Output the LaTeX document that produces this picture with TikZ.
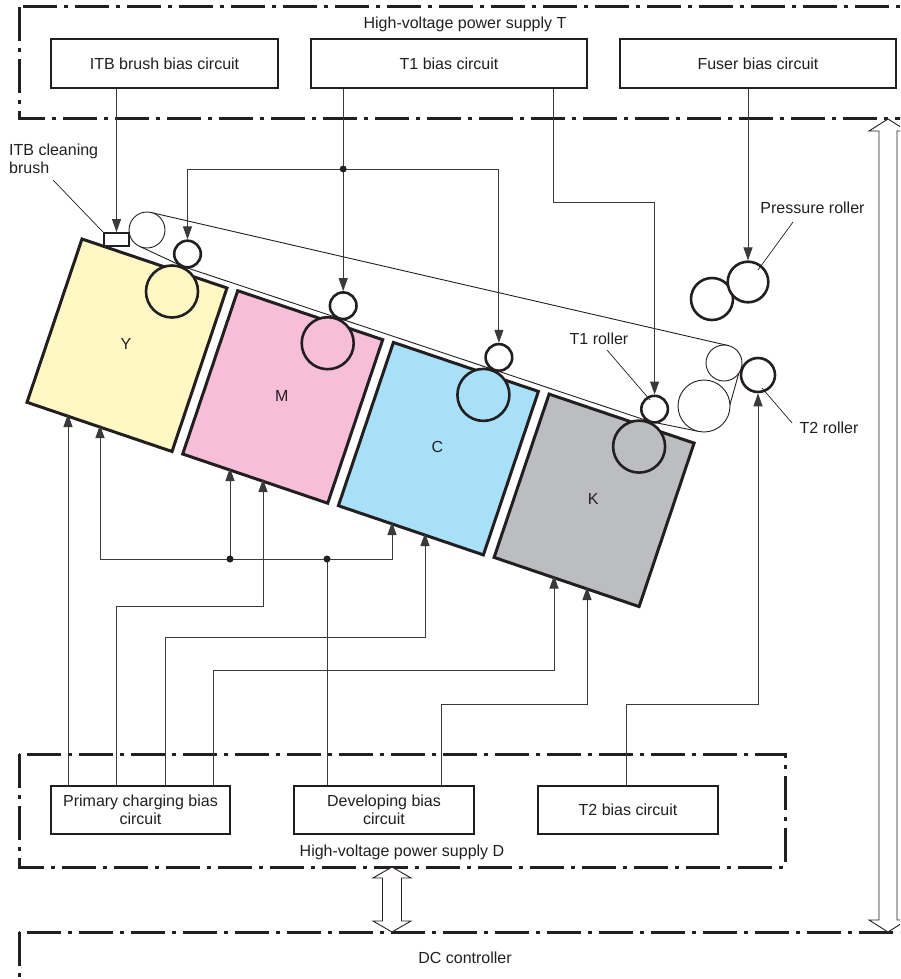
\documentclass[tikz,border=0pt]{standalone}
\usepackage{fontspec}
\setmainfont{Liberation Sans}
\usetikzlibrary{arrows.meta,calc}
\definecolor{ink}{HTML}{231F20}
\definecolor{wire}{HTML}{3A3A3A}
\definecolor{cy}{HTML}{FFF8C4}
\definecolor{cm}{HTML}{F6BED8}
\definecolor{cc}{HTML}{A8E0F8}
\definecolor{ck}{HTML}{BCBDC0}
\begin{document}
\begin{tikzpicture}[x=1pt,y=-1pt,
  font=\fontsize{16}{17.5}\selectfont,
  txt/.style={text=ink, inner sep=0pt},
  cbox/.style={draw=ink, line width=2.5pt, fill=white, align=center, text=ink, inner sep=0pt},
  wireline/.style={draw=wire, line width=1pt},
  arr/.style={wireline, -{Triangle[length=13pt,width=9pt]}},
  zone/.style={draw=ink, line width=3pt, dash pattern=on 34pt off 7pt on 4pt off 7pt},
  cart/.style={draw=ink, line width=3pt, line join=miter},
  drum/.style={draw=ink, line width=2.6pt},
  idler/.style={draw=ink, line width=0.9pt},
  leader/.style={draw=ink, line width=0.7pt},
  dot/.style={circle, fill=ink, inner sep=0pt, minimum size=7pt},
  dbl/.style={draw=ink, line width=0.9pt, fill=white, line join=miter},
]
\clip (0,0) rectangle (900,979);

% dash-dot zones
\draw[zone] (19,7) rectangle (940,119);
\draw[zone] (19,754) rectangle (785,867);
\draw[zone] (19,932) rectangle (940,1020);
\node[txt] (hvT) at (465,24) {High-voltage power supply T};
\node[txt] (hvD) at (402,852) {High-voltage power supply D};
\node[txt] (dc) at (465,958) {DC controller};

% circuit boxes
\node[cbox, minimum width=227pt, minimum height=49pt] (itb) at (164.5,63.5) {ITB brush bias circuit};
\node[cbox, minimum width=276pt, minimum height=49pt] (t1b) at (449,63.5) {T1 bias circuit};
\node[cbox, minimum width=276pt, minimum height=49pt] (fub) at (758,63.5) {Fuser bias circuit};
\node[cbox, minimum width=179pt, minimum height=48pt] (pcb) at (140.5,810) {Primary charging bias\\circuit};
\node[cbox, minimum width=180pt, minimum height=48pt] (dvb) at (384,810) {Developing bias\\circuit};
\node[cbox, minimum width=180pt, minimum height=48pt] (t2b) at (628,810) {T2 bias circuit};

% cartridges
\foreach \i/\col/\lab in {0/cy/Y,1/cm/M,2/cc/C,3/ck/K}{
  \begin{scope}[shift={(155.7*\i,51.7*\i)}]
    \filldraw[cart, fill=\col] (82,239) -- (227,288) -- (172,451.5) -- (27,402.3) -- cycle;
    \node[txt] (lab\lab) at (126,344) {\lab};
  \end{scope}
}

% belt
\draw[idler] (151,212.5) -- (728,345.5);
\draw[idler] (738.8,373.2) -- (725.4,420.8);
\draw[idler] (697.7,431.2) -- (649.5,421.4) -- (182.4,266.3) -- (139.7,246.4);

% drums and T1 rollers
\foreach \i/\col/\lab in {0/cy/Y,1/cm/M,2/cc/C,3/ck/K}{
  \begin{scope}[shift={(155.7*\i,51.7*\i)}]
    \draw[drum, fill=\col] (172,291.5) circle[radius=26];
    \draw[drum, fill=white] (187.5,254) circle[radius=13.3];
    \coordinate (t1r\lab) at (187.5,239.4);
  \end{scope}
}

% ITB rollers
\draw[idler, fill=white] (147,230) circle[radius=18];
\draw[idler, fill=white] (724,363) circle[radius=18];
\draw[idler, fill=white] (704,406) circle[radius=26];
\node[circle, draw=ink, line width=2.6pt, fill=white, minimum size=34pt, inner sep=0pt] (t2r) at (758,375) {};
% fuser rollers
\draw[drum, fill=white] (712,299) circle[radius=21];
\node[circle, draw=ink, line width=2.6pt, fill=white, minimum size=40.6pt, inner sep=0pt] (pr) at (748,282) {};
% ITB cleaning brush
\node[draw=ink, line width=2pt, fill=white, minimum width=25pt, minimum height=13pt, inner sep=0pt] (brush) at (116.5,239.5) {};

% tip points on cartridge bottoms
\coordinate (cY1) at (68,414);
\coordinate (cY2) at (100,425);
\coordinate (cM1) at (230,468);
\coordinate (cM2) at (263,479);
\coordinate (cC1) at (392,522);
\coordinate (cC2) at (425,533);
\coordinate (cK1) at (554,575.5);
\coordinate (cK2) at (587,587);
\coordinate (jT) at (343.2,169);
\coordinate (jD1) at (230,559);
\coordinate (jD2) at (327,559);

% top wires
\draw[arr] ([xshift=-48pt]itb.south) -- (brush.north);
\draw[wireline] (t1b.south -| jT) -- (jT);
\draw[arr] (jT) -- (t1rM);
\draw[arr] (jT) -| (t1rY);
\draw[arr] (jT) -| (t1rC);
\draw[arr] ([xshift=104pt]t1b.south) -- ++(0,113) -| (t1rK);
\draw[arr] ([xshift=-10pt]fub.south) -- (pr.north);

% bottom wires: primary charging
\draw[arr] ([xshift=-72.5pt]pcb.north) -- (cY1);
\draw[arr] ([xshift=-24.5pt]pcb.north) -- ++(0,-178) -| (cM2);
\draw[arr] ([xshift=24.5pt]pcb.north) -- ++(0,-147) -| (cC2);
\draw[arr] ([xshift=72.5pt]pcb.north) -- ++(0,-114) -| (cK1);
% developing
\draw[wireline] ([xshift=-57pt]dvb.north) -- (jD2);
\draw[arr] (jD2) -| (cY2);
\draw[arr] (jD2) -| (cC1);
\draw[arr] (jD1) -- (cM1);
\draw[arr] ([xshift=57pt]dvb.north) -- ++(0,-80) -| (cK2);
% T2
\draw[arr] ([xshift=-2pt]t2b.north) -- ++(0,-80) -| (t2r.south);

% junction dots
\node[dot] (dT) at (jT) {};
\node[dot] (dD1) at (jD1) {};
\node[dot] (dD2) at (jD2) {};

% labels with leaders
\node[txt, align=left, anchor=west] (itbl) at (9,159) {ITB cleaning\\brush};
\coordinate (itba) at (53,180);
\draw[leader] (itba) -- (brush.north west);
\node[txt] (prl) at (812.5,208) {Pressure roller};
\coordinate (pra) at (793,222);
\coordinate (prb) at (758,270);
\draw[leader] (pra) -- (prb);
\node[txt] (t1l) at (599,339) {T1 roller};
\coordinate (t1a) at (607,350);
\coordinate (t1c) at (650,400);
\draw[leader] (t1a) -- (t1c);
\node[txt] (t2l) at (829,428) {T2 roller};
\coordinate (t2a) at (792,423);
\coordinate (t2c) at (762,388);
\draw[leader] (t2a) -- (t2c);

% double arrows
\draw[dbl] (888,119) -- (907,131) -- (897,131) -- (897,920) -- (907,920) -- (888,932) -- (869,920) -- (879,920) -- (879,131) -- (869,131) -- cycle;
\draw[dbl] (392,867) -- (411,878) -- (401.5,878) -- (401.5,921) -- (411,921) -- (392,932) -- (373,921) -- (382.5,921) -- (382.5,878) -- (373,878) -- cycle;
\end{tikzpicture}
\end{document}
